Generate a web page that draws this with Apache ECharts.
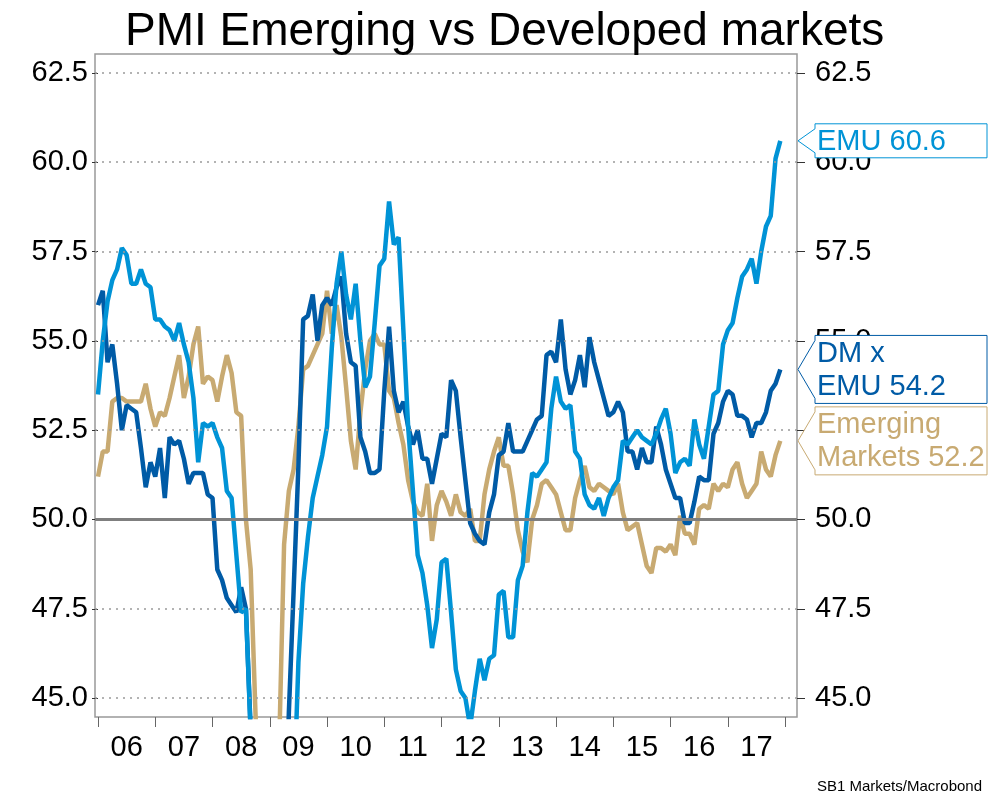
<!DOCTYPE html>
<html>
<head>
<meta charset="utf-8">
<script src="https://cdn.jsdelivr.net/npm/echarts@6/dist/echarts.min.js"></script>
<style>
  html, body { margin: 0; padding: 0; background: #fff; }
  #chart { width: 988px; height: 796px; }
</style>
</head>
<body>
<div id="chart"></div>
<script>
// Monthly PMI readings, Jan 2006 .. Dec 2017 (index 0 = Jan 2006)
const yearLabels = ['06', '07', '08', '09', '10', '11', '12', '13', '14', '15', '16', '17'];
const yTicks = [45, 47.5, 50, 52.5, 55, 57.5, 60, 62.5];

const emu = [
  53.5, 55.0, 56.1, 56.7, 57.0, 57.6, 57.4, 56.6, 56.6, 57.0, 56.6, 56.5,
  55.6, 55.6, 55.4, 55.3, 55.0, 55.5, 54.9, 54.4, 53.4, 51.6, 52.7, 52.6,
  52.7, 52.3, 52.0, 50.8, 50.6, 49.0, 47.4, 47.5, 44.0, 41.0, 37.5, 35.5,
  34.0, 34.2, 33.8, 35.5, 38.5, 42.0, 46.0, 48.2, 49.5, 50.6, 51.2, 51.8,
  52.6, 54.8, 56.6, 57.5, 56.3, 55.6, 56.6, 55.0, 53.7, 54.0, 55.5, 57.1,
  57.3, 58.9, 57.7, 57.9, 55.3, 52.6, 50.8, 49.0, 48.5, 47.6, 46.4, 47.2,
  48.8, 48.9, 47.4, 45.8, 45.2, 45.0, 44.2, 45.2, 46.1, 45.5, 46.1, 46.2,
  47.9, 48.0, 46.7, 46.7, 48.3, 48.7, 50.2, 51.3, 51.2, 51.4, 51.6, 53.1,
  54.0, 53.3, 53.1, 53.2, 51.9, 51.7, 50.7, 50.4, 50.3, 50.6, 50.1, 50.6,
  50.9, 51.1, 52.2, 52.1, 52.3, 52.5, 52.3, 52.2, 52.1, 52.4, 52.8, 53.1,
  52.4, 51.3, 51.6, 51.7, 51.5, 52.8, 52.1, 51.7, 52.6, 53.5, 53.6, 54.9,
  55.3, 55.5, 56.2, 56.8, 57.0, 57.3, 56.6, 57.5, 58.2, 58.5, 60.1, 60.6
];

const dmExEmu = [
  56.0, 56.4, 54.4, 54.9, 53.8, 52.5, 53.2, 53.1, 53.0, 52.0, 50.9, 51.6,
  51.2, 52.0, 50.6, 52.3, 52.1, 52.2, 51.7, 51.0, 51.3, 51.3, 51.3, 50.7,
  50.6, 48.6, 48.3, 47.8, 47.6, 47.4, 48.1, 47.5, 44.1, 41.5, 38.5, 36.0,
  34.5, 34.0, 36.0, 40.0, 44.6, 48.0, 51.5, 55.6, 55.7, 56.3, 55.0, 56.0,
  56.2, 56.0, 56.5, 56.8, 55.2, 54.4, 54.3, 52.3, 51.9, 51.3, 51.3, 51.4,
  53.6, 55.4, 53.6, 53.0, 53.3, 52.6, 52.1, 52.5, 51.7, 51.7, 51.0, 51.7,
  52.4, 52.3, 53.9, 53.6, 52.3, 51.1, 49.9, 49.6, 49.4, 49.3, 50.2, 50.7,
  51.8, 51.9, 52.7, 51.9, 51.9, 51.9, 52.2, 52.5, 52.8, 52.9, 54.6, 54.7,
  54.4, 55.6, 54.2, 53.5, 53.9, 54.6, 53.7, 55.1, 54.4, 53.9, 53.4, 52.9,
  53.0, 53.3, 53.0, 51.9, 51.9, 51.4, 52.0, 51.6, 51.6, 52.6, 52.1, 51.4,
  51.0, 50.6, 50.6, 49.9, 49.9, 50.5, 51.2, 51.1, 51.1, 52.4, 52.7, 53.3,
  53.6, 53.5, 52.9, 52.9, 52.8, 52.3, 52.7, 52.7, 53.0, 53.6, 53.8, 54.2
];

const emerging = [
  51.2, 51.9, 51.9, 53.3, 53.4, 53.4, 53.3, 53.3, 53.3, 53.3, 53.8, 53.1,
  52.6, 53.0, 52.9, 53.4, 54.0, 54.6, 53.4, 54.0, 54.9, 55.4, 53.8, 54.0,
  53.9, 53.3, 54.0, 54.6, 54.1, 53.0, 52.9, 50.0, 48.6, 44.6, 41.0, 40.0,
  39.5, 40.5, 43.8, 49.3, 50.8, 51.4, 52.6, 54.2, 54.3, 54.6, 54.9, 55.2,
  56.4, 55.2, 56.0, 55.1, 53.7, 52.2, 51.4, 53.0, 54.2, 55.0, 55.2, 54.9,
  54.9, 53.6, 53.4, 52.7, 52.1, 51.1, 50.5, 50.2, 50.1, 51.0, 49.4, 50.4,
  50.8, 50.5, 50.1, 50.7, 50.2, 50.1, 50.3, 49.4, 49.4, 50.7, 51.4, 51.9,
  52.3, 51.5, 51.5, 50.7, 49.7, 49.1, 48.8, 50.0, 50.4, 51.0, 51.1, 50.9,
  50.7, 50.2, 49.7, 49.7, 50.6, 51.1, 51.5, 50.9, 50.8, 51.0, 50.9, 50.8,
  50.7, 51.0, 50.2, 49.7, 49.8, 49.9, 49.3, 48.7, 48.5, 49.2, 49.2, 49.1,
  49.3, 49.0, 50.1, 49.6, 49.6, 49.3, 50.3, 50.4, 50.3, 51.0, 50.8, 51.0,
  50.9, 51.4, 51.6, 51.0, 50.6, 50.8, 51.0, 51.9, 51.4, 51.2, 51.8, 52.2
];

const FONT = '"Liberation Sans", Arial, Helvetica, sans-serif';
const COLORS = { emu: '#0093d6', dm: '#005ba6', em: '#c8aa72' };

// x is a month index; tick marks at each January, year labels mid-year
const yearStarts = yearLabels.map((_, k) => k * 12).concat([yearLabels.length * 12]);
const yearMids = yearLabels.map((_, k) => k * 12 + 6);

const toPairs = arr => arr.map((v, i) => [i, v]);
const last = arr => arr[arr.length - 1];

// Boxed callout with a left-pointing arrow at the right edge of the plot
function callout(color, lines, text) {
  return function (params, api) {
    const p = api.coord([api.value(0), api.value(1)]);
    const cs = params.coordSys;
    const tipX = cs.x + cs.width + 1;
    const y = p[1];
    const h = lines === 1 ? 17 : 34;
    const a = h - 5;
    const bx = tipX + 17;
    const rx = 987;
    return {
      type: 'group',
      children: [
        {
          type: 'polygon',
          shape: { points: [[tipX, y], [bx, y - a], [bx, y - h], [rx, y - h], [rx, y + h], [bx, y + h], [bx, y + a]] },
          style: { fill: '#fff', stroke: color, lineWidth: 1 }
        },
        {
          type: 'text',
          style: {
            text: text,
            x: bx + 2, y: y + 1,
            verticalAlign: 'middle', align: 'left',
            fill: color, font: '29px ' + FONT, lineHeight: 33
          }
        }
      ]
    };
  };
}

const calloutDefs = [
  { color: COLORS.emu, lines: 1, arr: emu, text: v => 'EMU ' + v.toFixed(1) },
  { color: COLORS.dm, lines: 2, arr: dmExEmu, text: v => 'DM x\nEMU ' + v.toFixed(1) },
  { color: COLORS.em, lines: 2, arr: emerging, text: v => 'Emerging\nMarkets ' + v.toFixed(1) }
];

const gridLines = yTicks.filter(v => v !== 50).map(v => ({
  yAxis: v,
  lineStyle: { type: [2, 5], color: '#9a9a9a', width: 1.5 }
}));
gridLines.push({ yAxis: 50, lineStyle: { type: 'solid', color: '#7f7f7f', width: 3 } });

function lineSeries(name, arr, color) {
  return {
    name, type: 'line', data: toPairs(arr),
    showSymbol: false, symbol: 'none', clip: true, z: 3,
    lineStyle: { width: 4.5, color }, itemStyle: { color },
    emphasis: { disabled: true }
  };
}

const yAxisBase = {
  type: 'value', min: 44.47, max: 63.03,
  splitLine: { show: false },
  axisLine: { show: false },
  axisTick: { show: true, customValues: yTicks, length: 6, lineStyle: { color: '#333', width: 1 } },
  axisLabel: {
    customValues: yTicks, formatter: v => v.toFixed(1),
    color: '#000', fontSize: 29, fontFamily: FONT
  }
};

const option = {
  animation: false,
  backgroundColor: '#fff',
  title: {
    text: 'PMI Emerging vs Developed markets',
    left: 120, top: 4,
    textStyle: { fontSize: 46, fontWeight: 'normal', color: '#000', fontFamily: FONT }
  },
  grid: {
    left: 95, right: 191, top: 54, bottom: 79,
    show: true, borderColor: '#999', borderWidth: 1.5, backgroundColor: '#fff'
  },
  xAxis: {
    type: 'value', min: -0.63, max: 146.5,
    splitLine: { show: false },
    axisLine: { show: false },
    axisTick: { show: true, customValues: yearStarts, length: 10, lineStyle: { color: '#666', width: 1 } },
    axisLabel: {
      customValues: yearMids,
      formatter: v => yearLabels[Math.round((v - 6) / 12)],
      color: '#000', fontSize: 29, fontFamily: FONT, margin: 16
    }
  },
  yAxis: [
    Object.assign({}, yAxisBase, { position: 'left', axisLabel: Object.assign({}, yAxisBase.axisLabel, { margin: 7 }) }),
    Object.assign({}, yAxisBase, { position: 'right', axisTick: Object.assign({}, yAxisBase.axisTick, { length: 8 }), axisLabel: Object.assign({}, yAxisBase.axisLabel, { margin: 18 }) })
  ],
  graphic: [{
    type: 'text', right: 6, bottom: 2,
    style: { text: 'SB1 Markets/Macrobond', font: '15px ' + FONT, fill: '#000' }
  }],
  series: [
    {
      type: 'line', data: [], z: 1, silent: true,
      markLine: { silent: true, symbol: 'none', label: { show: false }, data: gridLines, animation: false }
    },
    lineSeries('Emerging Markets', emerging, COLORS.em),
    lineSeries('DM x EMU', dmExEmu, COLORS.dm),
    lineSeries('EMU', emu, COLORS.emu)
  ].concat(calloutDefs.map(d => ({
    type: 'custom', coordinateSystem: 'cartesian2d', clip: false, silent: true, z: 10,
    renderItem: callout(d.color, d.lines, d.text(last(d.arr))),
    data: [[d.arr.length - 1, last(d.arr)]]
  })))
};

const chart = echarts.init(document.getElementById('chart'), null, { renderer: 'canvas' });
chart.setOption(option);
</script>
</body>
</html>
